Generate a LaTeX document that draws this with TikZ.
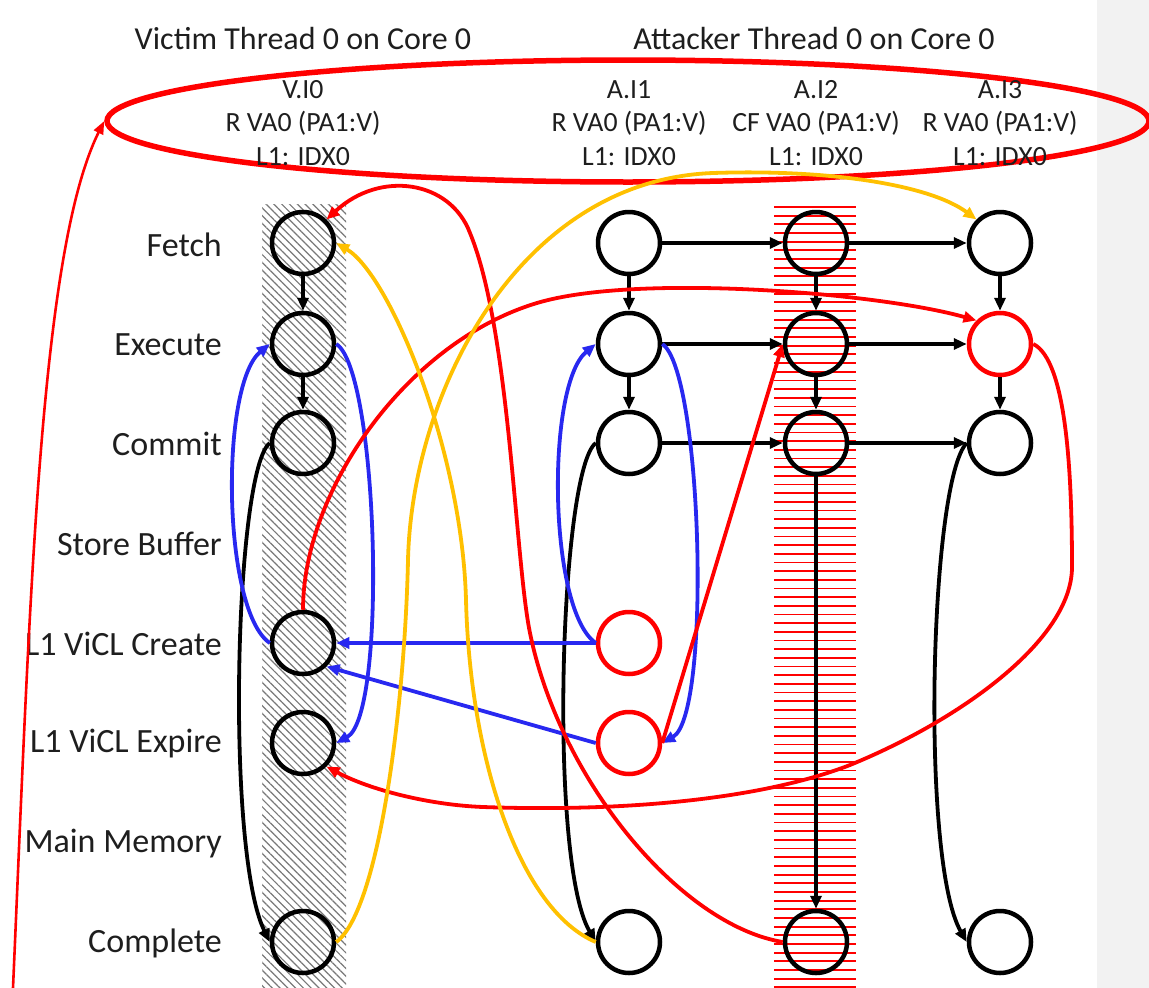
\documentclass[tikz,border=0pt]{standalone}
\usepackage{fontspec}
\setmainfont{Carlito}
\usetikzlibrary{arrows.meta,shapes.geometric,patterns.meta}
\definecolor{vblue}{RGB}{40,40,240}
\definecolor{vred}{RGB}{255,0,0}
\definecolor{vgold}{RGB}{255,192,0}
\definecolor{panel}{RGB}{242,242,242}
\definecolor{hatch}{RGB}{120,120,120}
\definecolor{ink}{RGB}{30,30,30}
\newcommand{\rowfont}{\fontsize{34}{40}\selectfont}
\newcommand{\headfont}{\fontsize{32}{38}\selectfont}
\newcommand{\insfont}{\fontsize{27.8}{33.5}\selectfont}

\tikzset{
  stage/.style={circle, draw=black, line width=4.5pt, minimum size=62pt, inner sep=0pt},
  hot/.style={stage, draw=vred},
  flow/.style={line width=3.8pt, -{Triangle[length=13pt,width=11pt]}},
  blk/.style={flow, color=black},
  blu/.style={flow, color=vblue},
  rd/.style={flow, color=vred},
  gd/.style={flow, color=vgold},
  rowlabel/.style={anchor=east, text=ink, font=\rowfont, inner sep=0pt},
  title/.style={text=ink, font=\headfont, inner sep=0pt},
  instr/.style={text=ink, font=\insfont, align=center, inner sep=0pt},
}

\begin{document}
\begin{tikzpicture}[x=1pt,y=-1pt]
\useasboundingbox (0,0) rectangle (1149,988);
\fill[panel] (1097,0) rectangle (1149,988);

% shaded lane of the victim instruction
\fill[pattern={Lines[angle=-45,distance=5.5pt,line width=1.2pt]}, pattern color=hatch]
  (262,204) rectangle (346,988);
% striped lane of the flush instruction
\foreach \k in {0,...,90}
  \draw[vred, line width=1.8pt] (774,207+8.67*\k) -- (856,207+8.67*\k);

% thread headings
\node[title] (tv) at (303,39) {Victim Thread 0 on Core 0};
\node[title] (ta) at (814,39) {Attacker Thread 0 on Core 0};

% instruction group outline
\node[ellipse, draw=vred, line width=5.5pt, minimum width=1042pt, minimum height=122pt, inner sep=0pt]
  (grp) at (628,121) {};

% instruction descriptions
\node[instr] (iv)  at (303,123) {V.I0\\R VA0 (PA1:V)\\L1: IDX0};
\node[instr] (ia1) at (629,123) {A.I1\\R VA0 (PA1:V)\\L1: IDX0};
\node[instr] (ia2) at (816,123) {A.I2\\CF VA0 (PA1:V)\\L1: IDX0};
\node[instr] (ia3) at (1000,123) {A.I3\\R VA0 (PA1:V)\\L1: IDX0};

% pipeline stage labels
\node[rowlabel] (lf)  at (222,245) {Fetch};
\node[rowlabel] (le)  at (222,345) {Execute};
\node[rowlabel] (lc)  at (222,444) {Commit};
\node[rowlabel] (ls)  at (222,544) {Store Buffer};
\node[rowlabel] (lcr) at (222,644) {L1 ViCL Create};
\node[rowlabel] (lex) at (222,744) {L1 ViCL Expire};
\node[rowlabel] (lm)  at (222,844) {Main Memory};
\node[rowlabel] (lco) at (222,943) {Complete};

% victim stages
\node[stage] (vf)  at (303,243) {};
\node[stage] (ve)  at (303,344) {};
\node[stage] (vc)  at (303,443) {};
\node[stage] (vcr) at (303,643) {};
\node[stage] (vex) at (303,743) {};
\node[stage] (vco) at (303,942) {};

% attacker A.I1 stages
\node[stage] (a1f)  at (629,243) {};
\node[stage] (a1e)  at (629,344) {};
\node[stage] (a1c)  at (629,443) {};
\node[hot]   (a1cr) at (629,643) {};
\node[hot]   (a1ex) at (629,743) {};
\node[stage] (a1co) at (629,942) {};

% attacker A.I2 stages
\node[stage] (a2f)  at (816,243) {};
\node[stage] (a2e)  at (816,344) {};
\node[stage] (a2c)  at (816,443) {};
\node[stage] (a2co) at (816,942) {};

% attacker A.I3 stages
\node[stage] (a3f)  at (1000,243) {};
\node[hot]   (a3e)  at (1000,344) {};
\node[stage] (a3c)  at (1000,443) {};
\node[stage] (a3co) at (1000,942) {};

% program order inside each instruction
\draw[blk] (vf) -- (ve);
\draw[blk] (ve) -- (vc);
\draw[blk] (vc.west) .. controls (235,470) and (225,850) .. (vco.west);
\draw[blk] (a1f) -- (a1e);
\draw[blk] (a1e) -- (a1c);
\draw[blk] (a1c.west) .. controls (560,470) and (548,860) .. (a1co.west);
\draw[blk] (a2f) -- (a2e);
\draw[blk] (a2e) -- (a2c);
\draw[blk] (a2c) -- (a2co);
\draw[blk] (a3f) -- (a3e);
\draw[blk] (a3e) -- (a3c);
\draw[blk] (a3c.west) .. controls (930,480) and (920,860) .. (a3co.west);

% in-order pipeline edges between attacker instructions
\draw[blk] (a1f) -- (a2f);
\draw[blk] (a2f) -- (a3f);
\draw[blk] (a1e) -- (a2e);
\draw[blk] (a2e) -- (a3e);
\draw[blk] (a1c) -- (a2c);
\draw[blk] (a2c) -- (a3c);

% ViCL lifetimes
\draw[blu] (vcr.west) .. controls (222,610) and (220,385) .. (ve.west);
\draw[blu] (ve.east) .. controls (378,370) and (388,715) .. (vex.east);
\draw[blu] (a1cr.west) .. controls (548,610) and (546,385) .. (a1e.west);
\draw[blu] (a1e.east) .. controls (702,370) and (712,715) .. (a1ex.east);
\draw[blu] (a1cr.west) -- (vcr.east);
\draw[blu] (a1ex.west) -- (vcr.south east);

% coherence / ordering edges
\draw[rd] (a1ex.east) -- (a2e.west);
\draw[rd] (vcr.north) .. controls (303,490) and (407,342) .. (537,303)
  .. controls (637,273) and (880,293) .. (a3e.north west);
\draw[rd] (a3e.east) .. controls (1066,360) and (1072,470) .. (1072,567)
  .. controls (1072,640) and (960,720) .. (850,765)
  .. controls (760,800) and (620,812) .. (483,807)
  .. controls (430,805) and (370,790) .. (vex.south east);
\draw[rd] (a2co.west) .. controls (680,925) and (560,780) .. (530,633)
  .. controls (515,560) and (510,330) .. (470,233)
  .. controls (450,180) and (380,170) .. (vf.north east);
\draw[gd] (a1co.west) .. controls (520,910) and (470,760) .. (466,600)
  .. controls (462,450) and (390,275) .. (vf.east);
\draw[gd] (vco.east) .. controls (380,910) and (405,700) .. (408,560)
  .. controls (412,390) and (520,180) .. (713,173)
  .. controls (830,169) and (930,185) .. (a3f.north west);

% incoming edge to the instruction group
\coordinate (src) at (13,988);
\draw[vred, line width=2.6pt, -{Triangle[length=13pt,width=10pt]}]
  (src) .. controls (30,600) and (40,250) .. (grp.west);
\end{tikzpicture}
\end{document}
